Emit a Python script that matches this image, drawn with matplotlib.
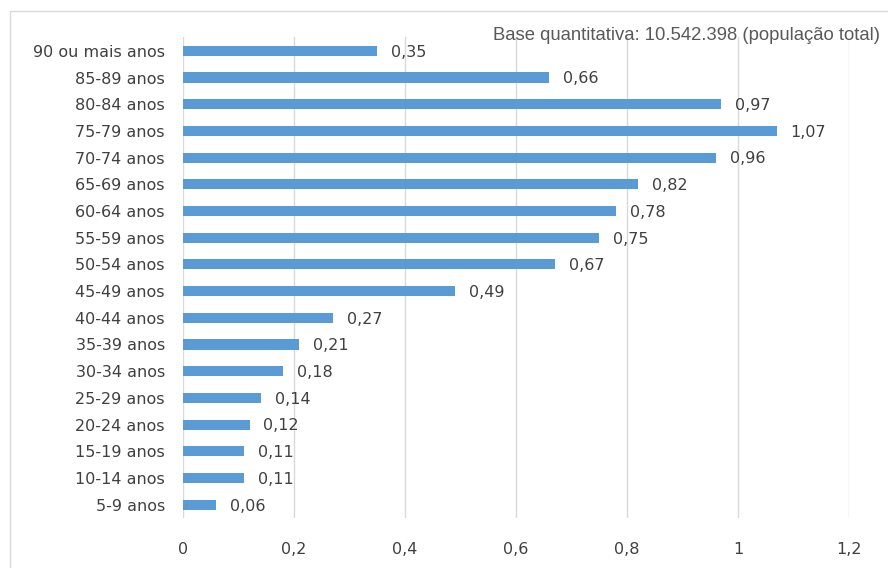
import matplotlib
matplotlib.use("Agg")
import matplotlib.pyplot as plt
from matplotlib.patches import Rectangle

categories = ["5-9 anos", "10-14 anos", "15-19 anos", "20-24 anos", "25-29 anos",
              "30-34 anos", "35-39 anos", "40-44 anos", "45-49 anos", "50-54 anos",
              "55-59 anos", "60-64 anos", "65-69 anos", "70-74 anos", "75-79 anos",
              "80-84 anos", "85-89 anos", "90 ou mais anos"]
values = [0.06, 0.11, 0.11, 0.12, 0.14, 0.18, 0.21, 0.27, 0.49, 0.67,
          0.75, 0.78, 0.82, 0.96, 1.07, 0.97, 0.66, 0.35]
xticks = [0, 0.2, 0.4, 0.6, 0.8, 1.0, 1.2]
xtick_labels = ["0", "0,2", "0,4", "0,6", "0,8", "1", "1,2"]
note = "Base quantitativa: 10.542.398 (população total)"

text_color = "#404040"
bar_color = "#5B9BD5"

fig = plt.figure(figsize=(8.88, 5.68), dpi=100)
ax = fig.add_axes([0.206, 0.088, 0.75, 0.846])

y = range(len(categories))
ax.barh(y, values, height=0.38, color=bar_color, zorder=2)

for i, v in enumerate(values):
    ax.text(v + 0.025, i - 0.05, f"{v:.2f}".replace(".", ","), va="center", ha="left",
            fontsize=11.5, color=text_color)

ax.set_xlim(0, 1.2)
ax.set_ylim(-0.5, len(categories) - 0.5)
ax.set_xticks(xticks)
ax.set_xticklabels(xtick_labels)
ax.set_yticks(list(y))
ax.set_yticklabels(categories)
ax.tick_params(axis="both", length=0, labelsize=11.5, labelcolor=text_color)
ax.tick_params(axis="x", pad=17)
ax.tick_params(axis="y", pad=13)
ax.grid(axis="x", color="#d9d9d9", linewidth=1, zorder=0)
for s in ax.spines.values():
    s.set_visible(False)

fig.text(0.991, 0.938, note, ha="right", va="center", fontsize=13.3,
         color="#595959", family="Liberation Sans")

fig.patches.append(Rectangle((0.011, -0.01), 1.0, 0.99, transform=fig.transFigure,
                             fill=False, edgecolor="#d9d9d9", linewidth=1))

fig.savefig("out.png", dpi=100)
